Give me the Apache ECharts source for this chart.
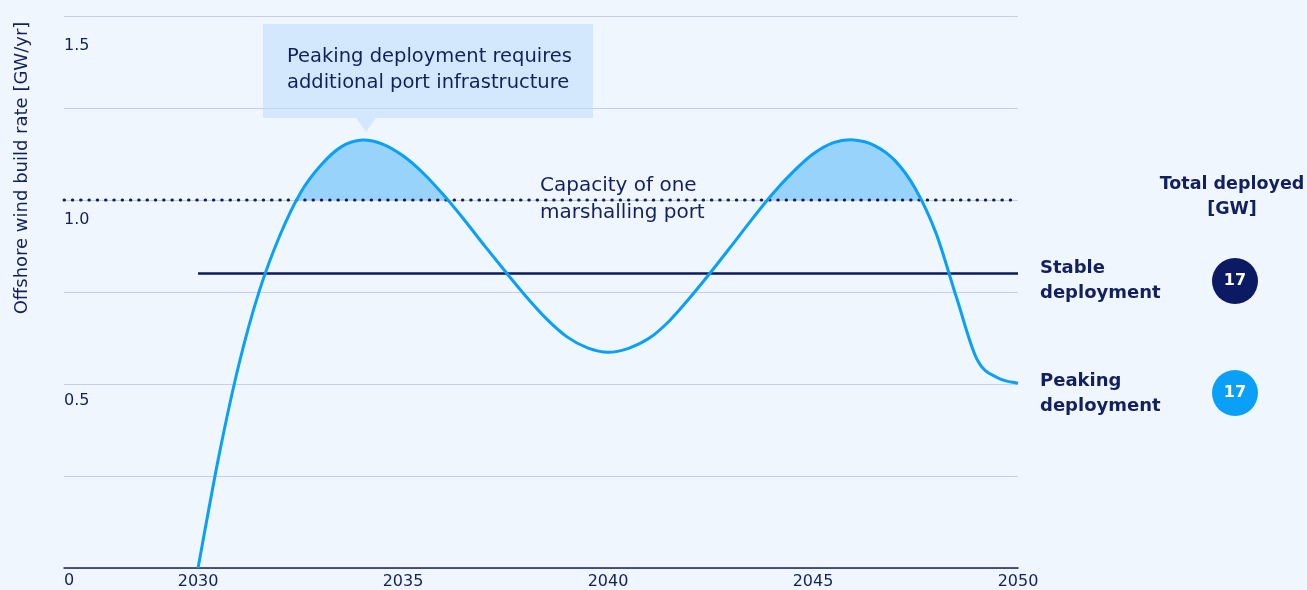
<!DOCTYPE html>
<html>
<head>
    <meta charset="utf-8">
    <title>Offshore wind build rate</title>
    <script src="https://cdn.jsdelivr.net/npm/echarts@6/dist/echarts.min.js"></script>
    <style>
        html, body { margin: 0; padding: 0; background: #eff6fe; }
        #main { width: 1307px; height: 590px; }
    </style>
</head>
<body>
<div id="main"></div>
<script type="text/javascript">
    // data (half-year steps)
    var years = [2030, 2030.5, 2031, 2031.5, 2032, 2032.5, 2033, 2033.5, 2034, 2034.5,
        2035, 2035.5, 2036, 2036.5, 2037, 2037.5, 2038, 2038.5, 2039, 2039.5,
        2040, 2040.5, 2041, 2041.5, 2042, 2042.5, 2043, 2043.5, 2044, 2044.5,
        2045, 2045.5, 2046, 2046.5, 2047, 2047.5, 2048, 2048.5, 2049, 2049.5, 2050];
    var peaking = [0, 0.30, 0.555, 0.755, 0.905, 1.02, 1.095, 1.145, 1.163, 1.152,
        1.12, 1.072, 1.012, 0.945, 0.874, 0.805, 0.738, 0.677, 0.628, 0.598,
        0.586, 0.597, 0.624, 0.672, 0.735, 0.803, 0.874, 0.946, 1.015, 1.075,
        1.125, 1.156, 1.163, 1.148, 1.107, 1.03, 0.91, 0.735, 0.567, 0.517, 0.502];
    var stableRate = 0.8;
    var portCapacity = 1.0;
    var xTicks = [2030, 2035, 2040, 2045, 2050];
    var yTicks = [0, 0.5, 1.0, 1.5];
    var totals = { stable: 17, peaking: 17 };

    var navy = '#13205f';
    var blue = '#0aa0f7';
    var shade = '#97d3fb';
    var font = 'DejaVu Sans';
    var xMin = 2026.73;

    var peakLine = years.map(function (y, i) { return [y, peaking[i]]; });

    // smooth path (Catmull-Rom) through the data points, in pixels from the axes
    function curvePath(api) {
        var pts = peakLine.map(function (d) { return api.coord(d); });
        var d = 'M' + pts[0][0] + ' ' + pts[0][1];
        for (var i = 0; i < pts.length - 1; i++) {
            var p0 = pts[i - 1] || pts[i], p1 = pts[i], p2 = pts[i + 1], p3 = pts[i + 2] || pts[i + 1];
            var c1x = p1[0] + (p2[0] - p0[0]) / 6, c1y = p1[1] + (p2[1] - p0[1]) / 6;
            var c2x = p2[0] - (p3[0] - p1[0]) / 6, c2y = p2[1] - (p3[1] - p1[1]) / 6;
            d += ' C' + c1x + ' ' + c1y + ' ' + c2x + ' ' + c2y + ' ' + p2[0] + ' ' + p2[1];
        }
        return { d: d, first: pts[0], last: pts[pts.length - 1] };
    }

    function renderCurve(params, api) {
        if (params.dataIndex !== 0) return;
        var c = curvePath(api);
        return {
            type: 'path', shape: { pathData: c.d },
            style: { fill: 'none', stroke: blue, lineWidth: 3, lineJoin: 'round' }
        };
    }

    function renderShade(params, api) {
        if (params.dataIndex !== 0) return;
        var c = curvePath(api);
        var base = api.coord([xMin, 0])[1];
        var capY = api.coord([xMin, portCapacity])[1];
        var d = c.d + ' L' + c.last[0] + ' ' + base + ' L' + c.first[0] + ' ' + base + ' Z';
        return {
            type: 'path', shape: { pathData: d },
            style: {
                fill: new echarts.graphic.LinearGradient(0, 0, 0, base, [
                    { offset: 0, color: shade },
                    { offset: capY / base, color: shade },
                    { offset: capY / base, color: 'rgba(151,211,251,0)' },
                    { offset: 1, color: 'rgba(151,211,251,0)' }
                ], true)
            }
        };
    }

    var myChart = echarts.init(document.getElementById('main'));
    var option = {
        backgroundColor: '#eff6fe',
        animation: false,
        grid: { left: 64, right: 289, top: 16, bottom: 22 },
        xAxis: {
            type: 'value', min: xMin, max: 2050,
            splitLine: { show: false },
            axisTick: { show: false },
            axisLine: { lineStyle: { color: navy, width: 1.5 } },
            axisLabel: {
                customValues: xTicks, margin: 6, color: navy,
                fontFamily: font, fontSize: 16,
                formatter: function (v) { return String(v); }
            }
        },
        yAxis: {
            type: 'value', min: 0, max: 1.5, interval: 0.25,
            axisLine: { show: false },
            axisTick: { show: false },
            splitLine: { lineStyle: { color: '#c9cde6', width: 1 } },
            axisLabel: {
                inside: true, margin: 0, customValues: yTicks,
                verticalAlign: 'top',
                formatter: function (v) {
                    var s = v === 0 ? '0' : v.toFixed(1);
                    if (v === 1.5) return '{a|' + s + '}';
                    if (v === 1) return '{b|' + s + '}';
                    if (v === 0.5) return '{c|' + s + '}';
                    return '{d|' + s + '}';
                },
                rich: {
                    a: { color: navy, fontFamily: font, fontSize: 16, padding: [22, 0, 0, 0] },
                    b: { color: navy, fontFamily: font, fontSize: 16, padding: [12, 0, 0, 0] },
                    c: { color: navy, fontFamily: font, fontSize: 16, padding: [9, 0, 0, 0] },
                    d: { color: navy, fontFamily: font, fontSize: 16, padding: [5, 0, 0, 0] }
                }
            }
        },
        series: [
            {
                name: 'fill', type: 'custom', data: peakLine, silent: true,
                encode: { x: 0, y: 1 }, renderItem: renderShade, z: 2
            },
            {
                name: 'capacity', type: 'line',
                data: [[xMin, portCapacity], [2050, portCapacity]],
                showSymbol: false, silent: true,
                lineStyle: { color: navy, width: 3, type: [0.5, 7.8], cap: 'round' },
                z: 3
            },
            {
                name: 'Stable deployment', type: 'line',
                data: [[2030, stableRate], [2050, stableRate]],
                showSymbol: false, silent: true,
                lineStyle: { color: '#0b1a62', width: 2.5 },
                z: 4
            },
            {
                name: 'Peaking deployment', type: 'custom', data: peakLine, silent: true,
                encode: { x: 0, y: 1 }, renderItem: renderCurve, z: 5
            }
        ],
        graphic: [
            {
                type: 'text', x: 22, y: 168, rotation: Math.PI / 2, z: 10,
                style: {
                    text: 'Offshore wind build rate [GW/yr]', fill: navy,
                    font: '18px "' + font + '"', align: 'center', verticalAlign: 'middle'
                }
            },
            {
                type: 'rect', shape: { x: 263, y: 24, width: 330, height: 94 },
                style: { fill: 'rgba(188,220,250,0.55)' }, z: 1
            },
            {
                type: 'polygon', shape: { points: [[356, 118], [376, 118], [366, 132]] },
                style: { fill: 'rgba(188,220,250,0.55)' }, z: 1
            },
            {
                type: 'text', x: 287, y: 70, z: 10,
                style: {
                    text: 'Peaking deployment requires\nadditional port infrastructure',
                    fill: navy, font: '19.5px "' + font + '"', lineHeight: 26, verticalAlign: 'middle'
                }
            },
            {
                type: 'text', x: 540, y: 199, z: 10,
                style: {
                    text: 'Capacity of one\nmarshalling port',
                    fill: navy, font: '20px "' + font + '"', lineHeight: 27, verticalAlign: 'middle'
                }
            },
            {
                type: 'text', x: 1232, y: 197, z: 10,
                style: {
                    text: 'Total deployed\n[GW]', fill: navy, align: 'center',
                    font: 'bold 17.5px "' + font + '"', lineHeight: 25, verticalAlign: 'middle'
                }
            },
            {
                type: 'text', x: 1040, y: 281, z: 10,
                style: {
                    text: 'Stable\ndeployment', fill: navy,
                    font: 'bold 18px "' + font + '"', lineHeight: 25, verticalAlign: 'middle'
                }
            },
            {
                type: 'text', x: 1040, y: 394, z: 10,
                style: {
                    text: 'Peaking\ndeployment', fill: navy,
                    font: 'bold 18px "' + font + '"', lineHeight: 25, verticalAlign: 'middle'
                }
            },
            {
                type: 'circle', shape: { cx: 1235, cy: 281, r: 23 }, z: 5,
                style: { fill: '#0b1a62' }
            },
            {
                type: 'text', x: 1235, y: 281, z: 10,
                style: {
                    text: String(totals.stable), fill: '#fff', align: 'center', verticalAlign: 'middle',
                    font: 'bold 16px "' + font + '"'
                }
            },
            {
                type: 'circle', shape: { cx: 1235, cy: 393, r: 23 }, z: 5,
                style: { fill: '#0aa0f7' }
            },
            {
                type: 'text', x: 1235, y: 393, z: 10,
                style: {
                    text: String(totals.peaking), fill: '#fff', align: 'center', verticalAlign: 'middle',
                    font: 'bold 16px "' + font + '"'
                }
            }
        ]
    };
    myChart.setOption(option);
</script>
</body>
</html>
